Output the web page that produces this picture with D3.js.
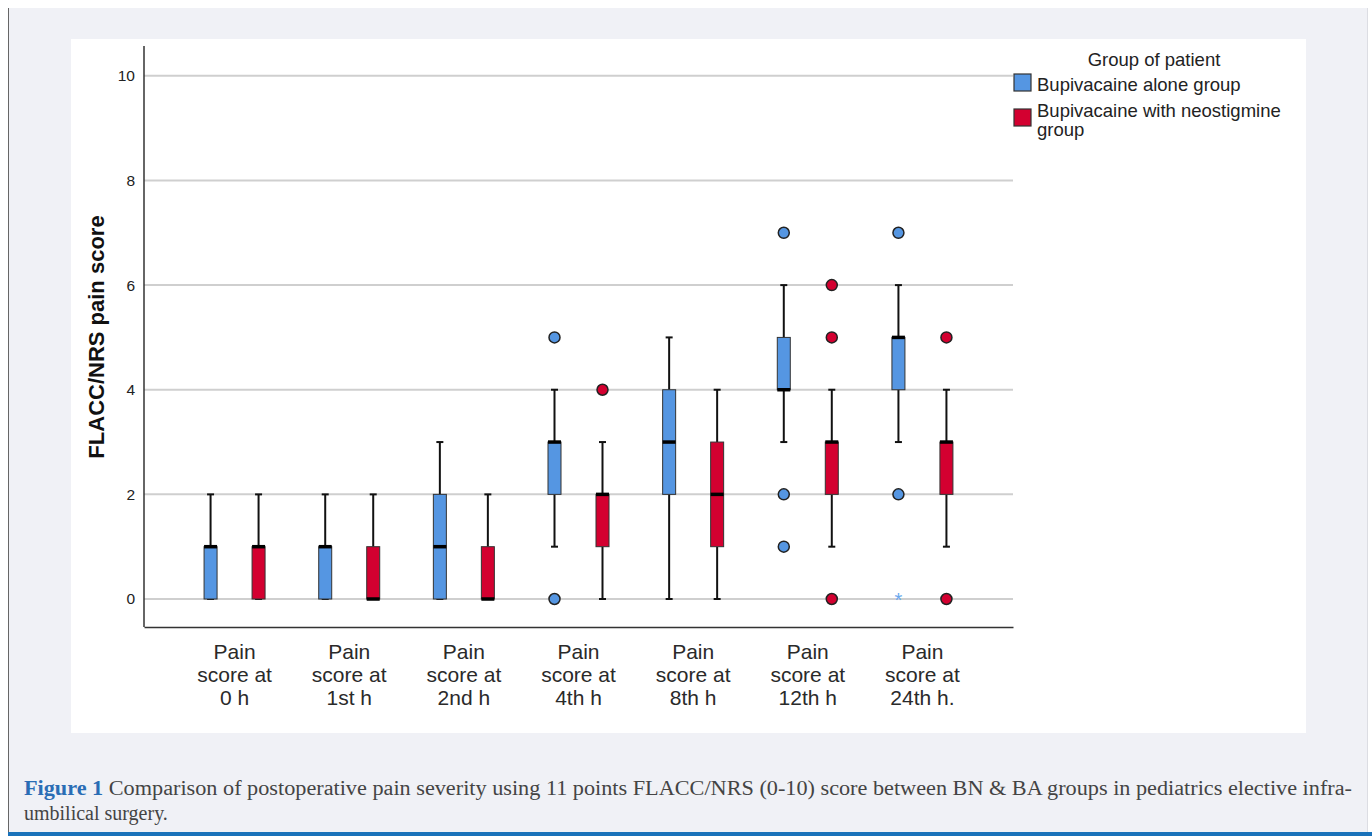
<!DOCTYPE html>
<html>
<head>
<meta charset="utf-8">
<script src="https://cdn.jsdelivr.net/npm/d3@7"></script>
<style>
  body { margin: 0; background: #fff; }
  svg { display: block; }
</style>
</head>
<body>
<svg width="1372" height="836"></svg>
<script>
// categories (x axis, 3 lines each)
const categories = [
  ["Pain", "score at", "0 h"],
  ["Pain", "score at", "1st h"],
  ["Pain", "score at", "2nd h"],
  ["Pain", "score at", "4th h"],
  ["Pain", "score at", "8th h"],
  ["Pain", "score at", "12th h"],
  ["Pain", "score at", "24th h."]
];
const groups = ["Bupivacaine alone group", "Bupivacaine with neostigmine group"];
const yTicks = [0, 2, 4, 6, 8, 10];

// Bupivacaine alone (BA)
const baMin = [0, 0, 0, 1, 0, 3, 3];
const baQ1  = [0, 0, 0, 2, 2, 4, 4];
const baMed = [1, 1, 1, 3, 3, 4, 5];
const baQ3  = [1, 1, 2, 3, 4, 5, 5];
const baMax = [2, 2, 3, 4, 5, 6, 6];
const baOut = [[], [], [], [5, 0], [], [7, 2, 1], [7, 2]];
const baExt = [[], [], [], [], [], [], [0]];

// Bupivacaine with neostigmine (BN)
const bnMin = [0, 0, 0, 0, 0, 1, 1];
const bnQ1  = [0, 0, 0, 1, 1, 2, 2];
const bnMed = [1, 0, 0, 2, 2, 3, 3];
const bnQ3  = [1, 1, 1, 2, 3, 3, 3];
const bnMax = [2, 2, 2, 3, 4, 4, 4];
const bnOut = [[], [], [], [4], [], [6, 5, 0], [5, 0]];
const bnExt = [[], [], [], [], [], [], []];

const colors = ["#5596e2", "#d30030"];

// build box records from the arrays
const boxes = [];
categories.forEach((c, i) => {
  boxes.push({ cat: i, g: 0, min: baMin[i], q1: baQ1[i], med: baMed[i], q3: baQ3[i], max: baMax[i], out: baOut[i], ext: baExt[i] });
  boxes.push({ cat: i, g: 1, min: bnMin[i], q1: bnQ1[i], med: bnMed[i], q3: bnQ3[i], max: bnMax[i], out: bnOut[i], ext: bnExt[i] });
});

const svg = d3.select("svg");

// page frame
svg.append("rect").attr("width", 1372).attr("height", 836).attr("fill", "#fff");
svg.append("rect").attr("x", 8).attr("y", 8).attr("width", 1360).attr("height", 828).attr("fill", "#f0f1f6");
svg.append("line").attr("x1", 8.5).attr("x2", 8.5).attr("y1", 8).attr("y2", 832).attr("stroke", "#666").attr("stroke-width", 1);
svg.append("line").attr("x1", 1367.5).attr("x2", 1367.5).attr("y1", 8).attr("y2", 832).attr("stroke", "#dcdde3").attr("stroke-width", 1);
svg.append("rect").attr("x", 8).attr("y", 832).attr("width", 1364).attr("height", 4).attr("fill", "#1a72ba");

// white chart panel
svg.append("rect").attr("x", 71).attr("y", 39).attr("width", 1235).attr("height", 694).attr("fill", "#fff");

const plotL = 144, plotR = 1013, plotT = 46, plotB = 627;

const x = d3.scaleBand().domain(d3.range(categories.length)).range([plotL, plotR]).paddingOuter(0.29).paddingInner(0);
const xSub = d3.scalePoint().domain([0, 1]).range([x.bandwidth() / 2 - 24, x.bandwidth() / 2 + 24]);
const y = d3.scaleLinear().domain([-0.535, 10.57]).range([plotB, plotT]);

// gridlines
svg.append("g")
  .selectAll("line")
  .data(yTicks)
  .enter()
  .append("line")
  .attr("x1", plotL)
  .attr("x2", plotR)
  .attr("y1", d => y(d))
  .attr("y2", d => y(d))
  .attr("stroke", "#cfcfcf")
  .attr("stroke-width", 2);

// y axis
const yAxis = svg.append("g")
  .attr("transform", `translate(${plotL},0)`)
  .call(d3.axisLeft(y).tickValues(yTicks).tickSize(0).tickPadding(9));
yAxis.select(".domain").remove();
yAxis.selectAll("text")
  .attr("font-family", "Arial, 'Liberation Sans', sans-serif")
  .attr("font-size", 15.5)
  .attr("fill", "#222");

svg.append("line").attr("x1", plotL).attr("x2", plotL).attr("y1", plotT).attr("y2", plotB)
  .attr("stroke", "#333").attr("stroke-width", 1.5);

// x axis
const xAxis = svg.append("g")
  .attr("transform", `translate(0,${plotB})`)
  .call(d3.axisBottom(x).tickSize(0).tickFormat(""));
xAxis.select(".domain").attr("stroke", "#333").attr("stroke-width", 1.5);

xAxis.selectAll(".tick text").remove();
xAxis.selectAll(".tick")
  .append("text")
  .attr("text-anchor", "middle")
  .attr("font-family", "Arial, 'Liberation Sans', sans-serif")
  .attr("font-size", 21)
  .attr("fill", "#2a2a2a")
  .selectAll("tspan")
  .data(d => categories[d])
  .enter()
  .append("tspan")
  .attr("x", 0)
  .attr("y", (d, i) => 32 + i * 23)
  .text(d => d);

// y title
svg.append("text")
  .attr("transform", `translate(104,337) rotate(-90)`)
  .attr("text-anchor", "middle")
  .attr("font-family", "Arial, 'Liberation Sans', sans-serif")
  .attr("font-weight", "bold")
  .attr("font-size", 22)
  .attr("fill", "#111")
  .text("FLACC/NRS pain score");

// boxes
const bx = svg.append("g")
  .selectAll("g")
  .data(boxes)
  .enter()
  .append("g")
  .attr("transform", d => `translate(${x(d.cat) + xSub(d.g)},0)`);

const bw = 13;

// whiskers
bx.append("line")
  .attr("y1", d => y(d.q3)).attr("y2", d => y(d.max))
  .attr("stroke", "#111").attr("stroke-width", 2);
bx.append("line")
  .attr("y1", d => y(d.q1)).attr("y2", d => y(d.min))
  .attr("stroke", "#111").attr("stroke-width", 2);
bx.append("line")
  .attr("x1", -3.5).attr("x2", 3.5)
  .attr("y1", d => y(d.max)).attr("y2", d => y(d.max))
  .attr("stroke", "#111").attr("stroke-width", 2);
bx.append("line")
  .attr("x1", -3.5).attr("x2", 3.5)
  .attr("y1", d => y(d.min)).attr("y2", d => y(d.min))
  .attr("stroke", "#111").attr("stroke-width", 2);

bx.append("rect")
  .attr("x", -bw / 2)
  .attr("width", bw)
  .attr("y", d => y(d.q3))
  .attr("height", d => y(d.q1) - y(d.q3))
  .attr("fill", d => colors[d.g])
  .attr("stroke", "#333")
  .attr("stroke-width", 1);

bx.append("line")
  .attr("x1", -bw / 2).attr("x2", bw / 2)
  .attr("y1", d => y(d.med)).attr("y2", d => y(d.med))
  .attr("stroke", "#000").attr("stroke-width", 3.5);

// outliers
bx.selectAll("circle")
  .data(d => d.out.map(v => ({ v: v, g: d.g })))
  .enter()
  .append("circle")
  .attr("r", 5.5)
  .attr("cy", d => y(d.v))
  .attr("fill", d => colors[d.g])
  .attr("stroke", "#222")
  .attr("stroke-width", 1.5);

// extremes
bx.selectAll("text.ext")
  .data(d => d.ext.map(v => ({ v: v, g: d.g })))
  .enter()
  .append("text")
  .attr("class", "ext")
  .attr("y", d => y(d.v) + 8)
  .attr("text-anchor", "middle")
  .attr("font-family", "Arial, sans-serif")
  .attr("font-size", 20)
  .attr("fill", "#6aa8ee")
  .text("*");

// legend
const lg = svg.append("g").attr("font-family", "Arial, 'Liberation Sans', sans-serif").attr("fill", "#222");
lg.append("text").attr("x", 1154).attr("y", 66).attr("text-anchor", "middle").attr("font-size", 18.5).text("Group of patient");

const legendRows = [
  { lines: ["Bupivacaine alone group"], sy: 74 },
  { lines: ["Bupivacaine with neostigmine", "group"], sy: 109 }
];
legendRows.forEach((r, i) => {
  lg.append("rect")
    .attr("x", 1014).attr("y", r.sy).attr("width", 17).attr("height", 17)
    .attr("fill", colors[i]).attr("stroke", "#333").attr("stroke-width", 1.2);
  r.lines.forEach((t, j) => {
    lg.append("text").attr("x", 1037).attr("y", r.sy + 17 - (i === 1 ? 9 : 0) + j * 19)
      .attr("font-size", 18.5).text(t);
  });
});

// caption
const cap = svg.append("g").attr("font-family", "'Liberation Serif', 'DejaVu Serif', serif").attr("font-size", 20);
const l1 = cap.append("text").attr("x", 24).attr("y", 795).attr("textLength", 1328).attr("lengthAdjust", "spacingAndGlyphs");
l1.append("tspan").attr("fill", "#2a6db5").attr("font-weight", "bold").text("Figure 1");
l1.append("tspan").attr("fill", "#444").text(" Comparison of postoperative pain severity using 11 points FLACC/NRS (0-10) score between BN & BA groups in pediatrics elective infra-");
cap.append("text").attr("x", 24).attr("y", 820).attr("fill", "#444").text("umbilical surgery.");
</script>
</body>
</html>
